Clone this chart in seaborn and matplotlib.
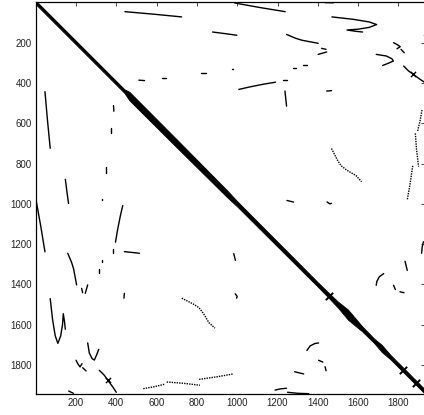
import numpy as np
import matplotlib
matplotlib.use("Agg")
import matplotlib.pyplot as plt
import seaborn as sns

# recurrence plot is symmetric: only the curves below the diagonal (x < y) are listed,
# the ones above are drawn as their mirror image
curve_A = [(46, 443), (58, 580), (72, 724)]
curve_B = [(147, 878), (155, 940), (163, 998)]
curve_C = [(432, 1008), (420, 1060), (406, 1130), (396, 1190)]
curve_D = [(3, 988), (25, 1110), (46, 1238)]
curve_E = [(159, 1245), (178, 1290), (188, 1322), (203, 1402)]
curve_F = [(228, 1419), (233, 1441)]
curve_G = [(258, 1402), (246, 1444)]
curve_U = [(72, 1470), (84, 1576), (97, 1655), (110, 1692), (124, 1655),
           (133, 1600), (137, 1545), (143, 1585), (147, 1622)]
curve_V2 = [(258, 1690), (266, 1740), (280, 1768), (291, 1775), (302, 1750), (313, 1722)]
curve_V3 = [(200, 1776), (210, 1795), (220, 1809), (230, 1793)]
curve_V3b = [(233, 1813), (250, 1829)]
curve_H = [(316, 1826), (340, 1850), (357, 1874), (380, 1905), (400, 1935)]
curve_J = [(164, 1929), (187, 1940)]
curve_K1 = [(534, 1917), (585, 1908), (640, 1895)]
curve_K2 = [(650, 1884), (730, 1890), (815, 1900)]
curve_K3 = [(811, 1871), (900, 1858), (980, 1844)]
curve_I = [(725, 1468), (782, 1497), (810, 1515), (832, 1543), (860, 1590), (890, 1617)]
curve_L = [(440, 1237), (478, 1241), (515, 1245)]
curve_M = [(1188, 1924), (1215, 1918), (1245, 1915)]
curve_N = [(1285, 1833), (1330, 1844)]
curve_O = [(1346, 1727), (1362, 1705), (1385, 1693), (1404, 1690)]
curve_P = [(1404, 1776), (1425, 1785)]
curve_Q = [(1436, 1808), (1441, 1828)]
curve_R = [(1250, 1935), (1300, 1940), (1355, 1942)]
short_bits = [
    [(386, 512), (388, 540)],
    [(374, 625), (374, 647)],
    [(350, 818), (350, 845)],
    [(329, 974), (329, 980)],
    [(385, 1225), (385, 1245)],
    [(327, 1278), (327, 1290)],
    [(313, 1325), (313, 1345)],
    [(440, 1444), (438, 1468)],
    [(1, 1436), (2, 1477)],
    [(990, 1446), (1000, 1459), (997, 1468)],
    [(983, 1247), (991, 1280)],
]

# main diagonal: band thickness (in samples) along the line of identity
diag_pos = [0, 440, 465, 700, 950, 1000, 1400, 1450, 1500, 1550, 1620, 1680, 1717, 1760, 1945]
diag_width = [18, 18, 42, 40, 34, 26, 22, 24, 30, 50, 25, 22, 35, 22, 22]
diag_crossings = [1455, 1825, 1887]
other_crossings = [(357, 1874)]

ticks = [200, 400, 600, 800, 1000, 1200, 1400, 1600, 1800]

solid_curves = [curve_A, curve_B, curve_C, curve_D, curve_E, curve_F, curve_G, curve_U,
                curve_V2, curve_V3, curve_V3b, curve_H, curve_J, curve_L, curve_M,
                curve_N, curve_O, curve_P, curve_Q, curve_R] + short_bits
dotted_curves = [curve_I, curve_K1, curve_K2, curve_K3]

sns.set_style("white")
plt.rcParams["font.family"] = ["Liberation Sans", "DejaVu Sans"]

fig = plt.figure(figsize=(4.24, 4.15), dpi=100)
ax = fig.add_axes([35.7 / 424, (415 - 393.7) / 415, (424.6 - 35.7) / 424, (393.7 - 2.4) / 415])


def draw(points, dotted):
    xs = [p[0] for p in points]
    ys = [p[1] for p in points]
    style = dict(color="black", estimator=None, sort=False, legend=False)
    if dotted:
        style.update(lw=1.0, linestyle=(0, (1.0, 0.8)))
    else:
        style.update(lw=1.0)
    # lower triangle and its mirror
    sns.lineplot(x=xs, y=ys, ax=ax, **style)
    sns.lineplot(x=ys, y=xs, ax=ax, **style)


for c in solid_curves:
    draw(c, False)
for c in dotted_curves:
    draw(c, True)

# diagonal band
dpos = np.array(diag_pos, dtype=float)
xx = np.linspace(0, 1945, 800)
dw = np.interp(xx, dpos, diag_width)
ax.fill_between(xx, xx - dw / 2, xx + dw / 2, color="black", lw=0.6, edgecolor="black")

sns.scatterplot(x=diag_crossings, y=diag_crossings, ax=ax, marker="x", s=28,
                color="black", linewidth=1.4, legend=False)
sns.scatterplot(x=[p[0] for p in other_crossings], y=[p[1] for p in other_crossings], ax=ax,
                marker="x", s=14, color="black", linewidth=1.0, legend=False)
sns.scatterplot(x=[p[1] for p in other_crossings], y=[p[0] for p in other_crossings], ax=ax,
                marker="x", s=14, color="black", linewidth=1.0, legend=False)

ax.set_xlim(0, 1930)
ax.set_ylim(1942, 0)
ax.set_xticks(ticks)
ax.set_yticks(ticks)
ax.set_xticklabels([str(t) for t in ticks])
ax.set_yticklabels([str(t) for t in ticks])
ax.tick_params(direction="in", length=3, width=0.6, top=True, right=True,
               labelsize=7, labelcolor="#222222", pad=3)
for s in ax.spines.values():
    s.set_visible(True)
    s.set_color("black")
    s.set_linewidth(0.9)
ax.set_xlabel("")
ax.set_ylabel("")

fig.savefig("out.png", dpi=100)
